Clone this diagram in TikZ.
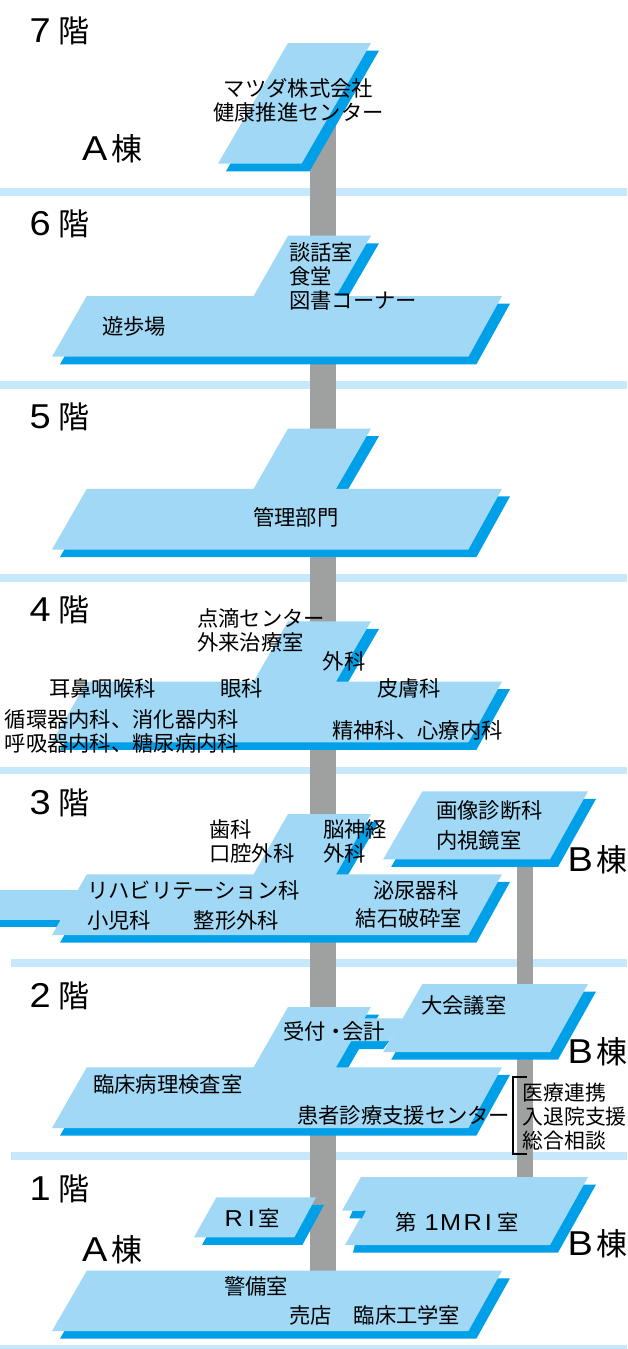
\documentclass[tikz,border=0pt]{standalone}
\usepackage{fontspec}
\usepackage{tikz}
\usetikzlibrary{positioning}
\newfontfamily\jpfont{Noto Sans CJK JP}
\newfontfamily\widefont[FakeStretch=1.1]{Liberation Sans}
\definecolor{PlateBlue}{HTML}{A0D8F6}
\definecolor{EdgeBlue}{HTML}{00A0E9}
\definecolor{BandBlue}{HTML}{C7E7FA}
\definecolor{ShaftGray}{HTML}{9FA0A0}
\newcommand{\WingPlate}[1]{%
	\fill [Edge, shift={(0,#1)}] (288,0) -- (371,0) -- (336,60.3) -- (502,60.3) -- (468.4,121) -- (52,121) -- (86.8,60.3) -- (253.6,60.3) -- cycle;
	\fill [Plate, shift={(0,#1)}] (288,0) -- (371,0) -- (336,60.3) -- (502,60.3) -- (468.4,121) -- (52,121) -- (86.8,60.3) -- (253.6,60.3) -- cycle;}
\newcommand{\BigLat}[1]{{\fontsize{34.5}{34}\selectfont\widefont #1}}
\newcommand{\SmallLat}[1]{{\fontsize{23}{24}\selectfont\widefont #1}}
\begin{document}
\begin{tikzpicture}[x=1pt, y=-1pt]
	\tikzstyle{Plate}	= [fill=PlateBlue]
	\tikzstyle{Edge}	= [fill=EdgeBlue, shift={(8,7.6)}]
	\tikzstyle{Band}	= [fill=BandBlue]
	\tikzstyle{Shaft}	= [fill=ShaftGray]
	\tikzstyle{Bracket}	= [black, line width=2.2pt]
	\tikzstyle{Room}	= [anchor=west, inner sep=0pt, align=left, font=\fontsize{21.3}{24}\selectfont\jpfont]
	\tikzstyle{Title}	= [anchor=base west, inner sep=0pt, font=\fontsize{31}{34}\selectfont\jpfont]

	\useasboundingbox (0,0) rectangle (627,1349);

	% floor bands
	\fill [Band] (0,188) rectangle (627,195.7);
	\fill [Band] (0,381) rectangle (627,389);
	\fill [Band] (0,574) rectangle (627,581.5);
	\fill [Band] (0,766.7) rectangle (627,774.3);
	\fill [Band] (11,959.3) rectangle (627,967);
	\fill [Band] (11,1152.3) rectangle (627,1160);
	\fill [Band] (0,1345) rectangle (627,1349);

	% shafts
	\fill [Shaft] (309.6,120) rectangle (336,1272);
	\fill [Shaft] (517.2,860) rectangle (533.2,1178);

	% A wing
	\fill [Edge] (288,43) -- (371,43) -- (301.6,163.7) -- (218,163.7) -- cycle;
	\fill [Plate] (288,43) -- (371,43) -- (301.6,163.7) -- (218,163.7) -- cycle;
	\WingPlate{235.7}
	\WingPlate{428.5}
	\WingPlate{621.3}
	\fill [EdgeBlue] (0,920) rectangle (60,927.3);
	\fill [Plate] (0,889.7) rectangle (80,920);
	\WingPlate{814}
	\WingPlate{1007}
	\fill [Edge] (216.4,1197.3) -- (316,1197.3) -- (294.4,1237.3) -- (194,1237.3) -- cycle;
	\fill [Plate] (216.4,1197.3) -- (316,1197.3) -- (294.4,1237.3) -- (194,1237.3) -- cycle;
	\fill [Edge] (86.8,1270.7) -- (502,1270.7) -- (468.4,1331) -- (52,1331) -- cycle;
	\fill [Plate] (86.8,1270.7) -- (502,1270.7) -- (468.4,1331) -- (52,1331) -- cycle;

	% B wing
	\fill [Edge] (422.4,791.3) -- (588,791.3) -- (550,859.3) -- (383.2,859.3) -- cycle;
	\fill [Plate] (422.4,791.3) -- (588,791.3) -- (550,859.3) -- (383.2,859.3) -- cycle;
	\fill [Edge] (422.4,984) -- (588,984) -- (550,1052) -- (383.2,1052) -- cycle;
	\fill [EdgeBlue] (351.7,1041) -- (389.4,1041) -- (383.3,1049) -- (347,1049) -- cycle;
	\fill [Plate] (422.4,984) -- (588,984) -- (550,1052) -- (383.2,1052) -- cycle;
	\fill [Plate] (355,1018.3) -- (403,1018.3) -- (389.4,1041) -- (345,1041) -- cycle;
	\fill [EdgeBlue] (352.7,1210.7) -- (366,1210.7) -- (362,1218.5) -- (349.3,1218.3) -- cycle;
	\fill [Edge] (361,1177) -- (588,1177) -- (550,1245) -- (345,1245) -- cycle;
	\fill [Plate] (361,1177) -- (588,1177) -- (550,1245) -- (345,1245) -- (360,1218.5) -- (362,1218.5) -- (366,1210.7) -- (342,1210.7) -- cycle;

	% bracket
	\coordinate (b1) at (526.7,1076.7);
	\coordinate (b2) at (513.3,1076.7);
	\coordinate (b3) at (513.3,1154.3);
	\coordinate (b4) at (526.7,1154.3);
	\draw [Bracket] (b1) -- (b2) -- (b3) -- (b4);

	% floor names
	\node (f7) at (29.5,42.5) [Title] {\BigLat{7}\hspace{8pt}階};
	\node (f6) at (29.5,235.5) [Title] {\BigLat{6}\hspace{8pt}階};
	\node (f5) at (29.5,428.5) [Title] {\BigLat{5}\hspace{8pt}階};
	\node (f4) at (29.5,621.5) [Title] {\BigLat{4}\hspace{8pt}階};
	\node (f3) at (29.5,814.5) [Title] {\BigLat{3}\hspace{8pt}階};
	\node (f2) at (29.5,1007.5) [Title] {\BigLat{2}\hspace{8pt}階};
	\node (f1) at (29.5,1200.5) [Title] {\BigLat{1}\hspace{8pt}階};

	% wing names
	\node (a7) at (82,160.8) [Title] {\BigLat{A}\hspace{3.5pt}棟};
	\node (a1) at (82,1261.8) [Title] {\BigLat{A}\hspace{3.5pt}棟};
	\node (b3f) at (567.5,871.5) [Title] {\BigLat{B}\hspace{3pt}棟};
	\node (b2f) at (567.5,1063.5) [Title] {\BigLat{B}\hspace{3pt}棟};
	\node (b1f) at (567.5,1255.8) [Title] {\BigLat{B}\hspace{3pt}棟};

	% rooms
	\node (r71) at (298.5,100) [Room, anchor=center, align=center] {マツダ株式会社\\健康推進センター};
	\node (r61) at (289,276) [Room] {談話室\\食堂\\図書コーナー};
	\node (r62) at (102,326) [Room] {遊歩場};
	\node (r51) at (253,517) [Room] {管理部門};
	\node (r41) at (197,630) [Room] {点滴センター\\外来治療室};
	\node (r42) at (322.5,661.7) [Room] {外科};
	\node (r43) at (49,688.3) [Room] {耳鼻咽喉科};
	\node (r44) at (220,688.3) [Room] {眼科};
	\node (r45) at (377,688.3) [Room] {皮膚科};
	\node (r46) at (4.5,731.3) [Room] {循環器内科、消化器内科\\呼吸器内科、糖尿病内科};
	\node (r47) at (332,730) [Room] {精神科、心療内科};
	\node (r31) at (209,841) [Room] {歯科\\口腔外科};
	\node (r32) at (323,841) [Room] {脳神経\\外科};
	\node (r33) at (436,810) [Room] {画像診断科};
	\node (r34) at (436,840.7) [Room] {内視鏡室};
	\node (r35) at (87,890) [Room] {リハビリテーション科};
	\node (r36) at (373,890) [Room] {泌尿器科};
	\node (r37) at (87,920) [Room] {小児科};
	\node (r38) at (193.6,920) [Room] {整形外科};
	\node (r39) at (355.5,918.3) [Room] {結石破砕室};
	\node (r21) at (421,1005) [Room] {大会議室};
	\node (r22) at (283,1031) [Room] {受付・\hspace{-5pt}会計};
	\node (r23) at (93,1084) [Room] {臨床病理検査室};
	\node (r24) at (297,1115) [Room] {患者診療支援センター};
	\node (r25) at (522.5,1116.5) [Room, font=\fontsize{20.8}{23.6}\selectfont\jpfont] {医療連携\\入退院支援\\総合相談};
	\node (r11) at (224.5,1218) [Room] {\SmallLat{R}\hspace{5pt}\SmallLat{I}\hspace{3pt}室};
	\node (r12) at (395,1222.7) [Room] {第\hspace{8pt}\SmallLat{1}\hspace{1.5pt}\SmallLat{M}\hspace{2.5pt}\SmallLat{R}\hspace{3pt}\SmallLat{I}\hspace{6pt}室};
	\node (r13) at (224,1286) [Room] {警備室};
	\node (r14) at (289,1315) [Room] {売店};
	\node (r15) at (353.5,1315) [Room] {臨床工学室};
\end{tikzpicture}
\end{document}
